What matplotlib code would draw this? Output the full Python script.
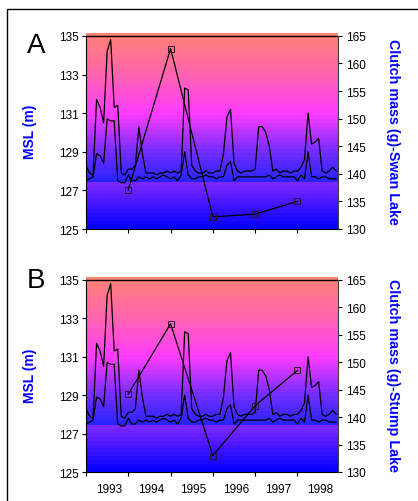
import matplotlib
matplotlib.use("Agg")
import matplotlib.pyplot as plt
from matplotlib.patches import Rectangle
import numpy as np

plt.rcParams['font.family'] = ['Liberation Sans', 'DejaVu Sans']

#--------------------------------------------#
# Data (monthly water levels, yearly clutch mass)
#--------------------------------------------#
months = list(range(72))

msl_upper = [128.3, 127.9, 127.8, 131.7, 131.3, 130.5, 134.2, 134.8, 131.3, 131.4,
             127.9, 127.8, 128.1, 128.1, 128.3, 130.3, 128.9, 127.9, 127.9, 127.9,
             127.8, 127.9, 127.9, 128.0, 127.9, 128.0, 127.9, 128.0, 132.3, 132.2,
             128.3, 128.0, 127.9, 127.9, 128.0, 127.9, 127.9, 128.0, 128.0, 128.9,
             130.8, 131.2, 128.4, 128.0, 127.9, 128.0, 128.0, 128.0, 128.1, 130.3,
             130.3, 130.0, 129.3, 128.0, 128.1, 127.9, 128.0, 128.0, 127.9, 128.0,
             128.0, 128.2, 128.6, 131.0, 129.4, 129.5, 129.7, 128.0, 127.9, 128.0,
             128.2, 128.0]

msl_lower = [127.5, 127.6, 127.7, 128.9, 128.8, 128.4, 130.7, 130.6, 130.6, 127.5,
             127.4, 127.4, 127.8, 127.5, 127.5, 127.7, 127.6, 127.7, 127.6, 127.7,
             127.6, 127.7, 127.8, 127.7, 127.6, 127.7, 127.5, 127.8, 129.0, 127.8,
             127.6, 127.6, 127.7, 127.7, 127.8, 127.7, 127.7, 127.6, 127.7, 127.7,
             128.3, 128.5, 127.5, 127.7, 127.7, 127.7, 127.7, 127.7, 127.7, 127.7,
             127.7, 127.7, 127.8, 127.6, 127.7, 127.8, 127.7, 127.7, 127.7, 127.7,
             127.5, 127.8, 127.6, 129.0, 127.7, 127.7, 127.6, 127.7, 127.7, 127.6,
             127.6, 127.6]

mass_months = [12, 24, 36, 48, 60]
swan_mass = [137.1, 162.7, 132.2, 132.7, 135.0]
stump_mass = [144.2, 157.0, 133.0, 142.1, 148.5]

years = ['1993', '1994', '1995', '1996', '1997', '1998']

#--------------------------------------------#
# Stepped background gradient
#--------------------------------------------#
def gradient(vmin, vmax, stops, nbands):
    v = np.linspace(vmin, vmax, 400)
    # quantise into bands like the original fill
    vq = vmin + (np.floor((v - vmin) / (vmax - vmin) * nbands) + 0.5) * (vmax - vmin) / nbands
    sv = [s[0] for s in stops]
    rgb = np.zeros((len(v), 1, 3))
    for c in range(3):
        rgb[:, 0, c] = np.interp(vq, sv, [s[1][c] for s in stops]) / 255.
    return rgb[::-1]

upper_stops = [(127.4, (35, 35, 255)), (129.0, (115, 45, 255)), (131.0, (255, 60, 255)),
               (133.0, (255, 100, 175)), (135.15, (255, 130, 115))]
lower_stops = [(125.0, (0, 0, 255)), (127.4, (130, 40, 255))]

#--------------------------------------------#
# One panel
#--------------------------------------------#
def plotPanel(rect, mass, rlabel, show_years):
    ax = fig.add_axes(rect)
    xmax = 71.5
    ax.imshow(gradient(127.4, 135.15, upper_stops, 40), extent=(0, xmax, 127.4, 135.15),
              aspect='auto', zorder=0, interpolation='nearest')
    ax.imshow(gradient(125.0, 127.4, lower_stops, 12), extent=(0, xmax, 125.0, 127.4),
              aspect='auto', zorder=0, interpolation='nearest')
    ax.axhline(135, color='black', lw=1.0, zorder=3)

    ax.plot(months, msl_upper, color='black', lw=0.9, zorder=4)
    ax.plot(months, msl_lower, color='black', lw=0.9, zorder=4)

    ax.set_xlim(0, xmax)
    ax.set_ylim(125, 135.15)
    ax.set_yticks([125, 127, 129, 131, 133, 135])
    ax.set_xticks([0, 12, 24, 36, 48, 60])
    ax.set_xticks([m + 6.5 for m in range(0, 72, 12)], minor=True)
    ax.tick_params(axis='x', which='major', length=3, width=0.8, labelbottom=False)
    if show_years:
        ax.set_xticklabels(years, minor=True)
        ax.tick_params(axis='x', which='minor', length=0, labelsize=8.5, pad=8)
    else:
        ax.tick_params(axis='x', which='minor', length=0, labelbottom=False)
    ax.tick_params(axis='y', length=3, width=0.8, labelsize=8.5, pad=2)
    ax.spines['top'].set_visible(False)
    ax.spines['right'].set_visible(False)
    ax.spines['left'].set_bounds(125, 135)
    ax.set_ylabel('MSL (m)', color='blue', fontweight='bold', fontsize=10,
                  va='center', ha='center')
    ax.yaxis.set_label_coords(-0.222, 0.5)

    ax2 = ax.twinx()
    ax2.plot(mass_months, mass, color='black', lw=0.9, marker='s', ms=4,
             mfc='none', mec='#301030', mew=0.7, zorder=5)
    ax2.set_ylim(130, 130 + 3.5 * 10.15)
    ax2.set_yticks([130, 135, 140, 145, 150, 155, 160, 165])
    ax2.tick_params(axis='y', length=3, width=0.8, labelsize=8.5, pad=3)
    for s in ['top', 'left', 'bottom']:
        ax2.spines[s].set_visible(False)
    ax2.spines['right'].set_bounds(130, 165)
    ax2.spines['right'].set_color('#404040')
    ax2.set_ylabel(rlabel, color='blue', fontweight='bold', fontsize=10.3,
                   rotation=-90, va='center', ha='center')
    ax2.yaxis.set_label_coords(1.218, 0.5)
    return ax


fig = plt.figure(figsize=(4.18, 5.02), dpi=100)
W, H = 418., 502.

plotPanel([86 / W, 1 - 230 / H, 252 / W, 196 / H], swan_mass,
          'Clutch mass (g)-Swan Lake', False)
plotPanel([86 / W, 1 - 473 / H, 252 / W, 195 / H], stump_mass,
          'Clutch mass (g)-Stump Lake', True)

fig.text(36 / W, 1 - 46 / H, 'A', fontsize=20, ha='center', va='center')
fig.text(36 / W, 1 - 281 / H, 'B', fontsize=20, ha='center', va='center')

# frame around the whole figure (cut off on the right and bottom)
fig.patches.append(Rectangle((7 / W, -0.1), 1.2, 1 - 10 / H + 0.1, fill=False,
                             edgecolor='black', lw=1.0, transform=fig.transFigure))

plt.savefig('out.png', dpi=100)
